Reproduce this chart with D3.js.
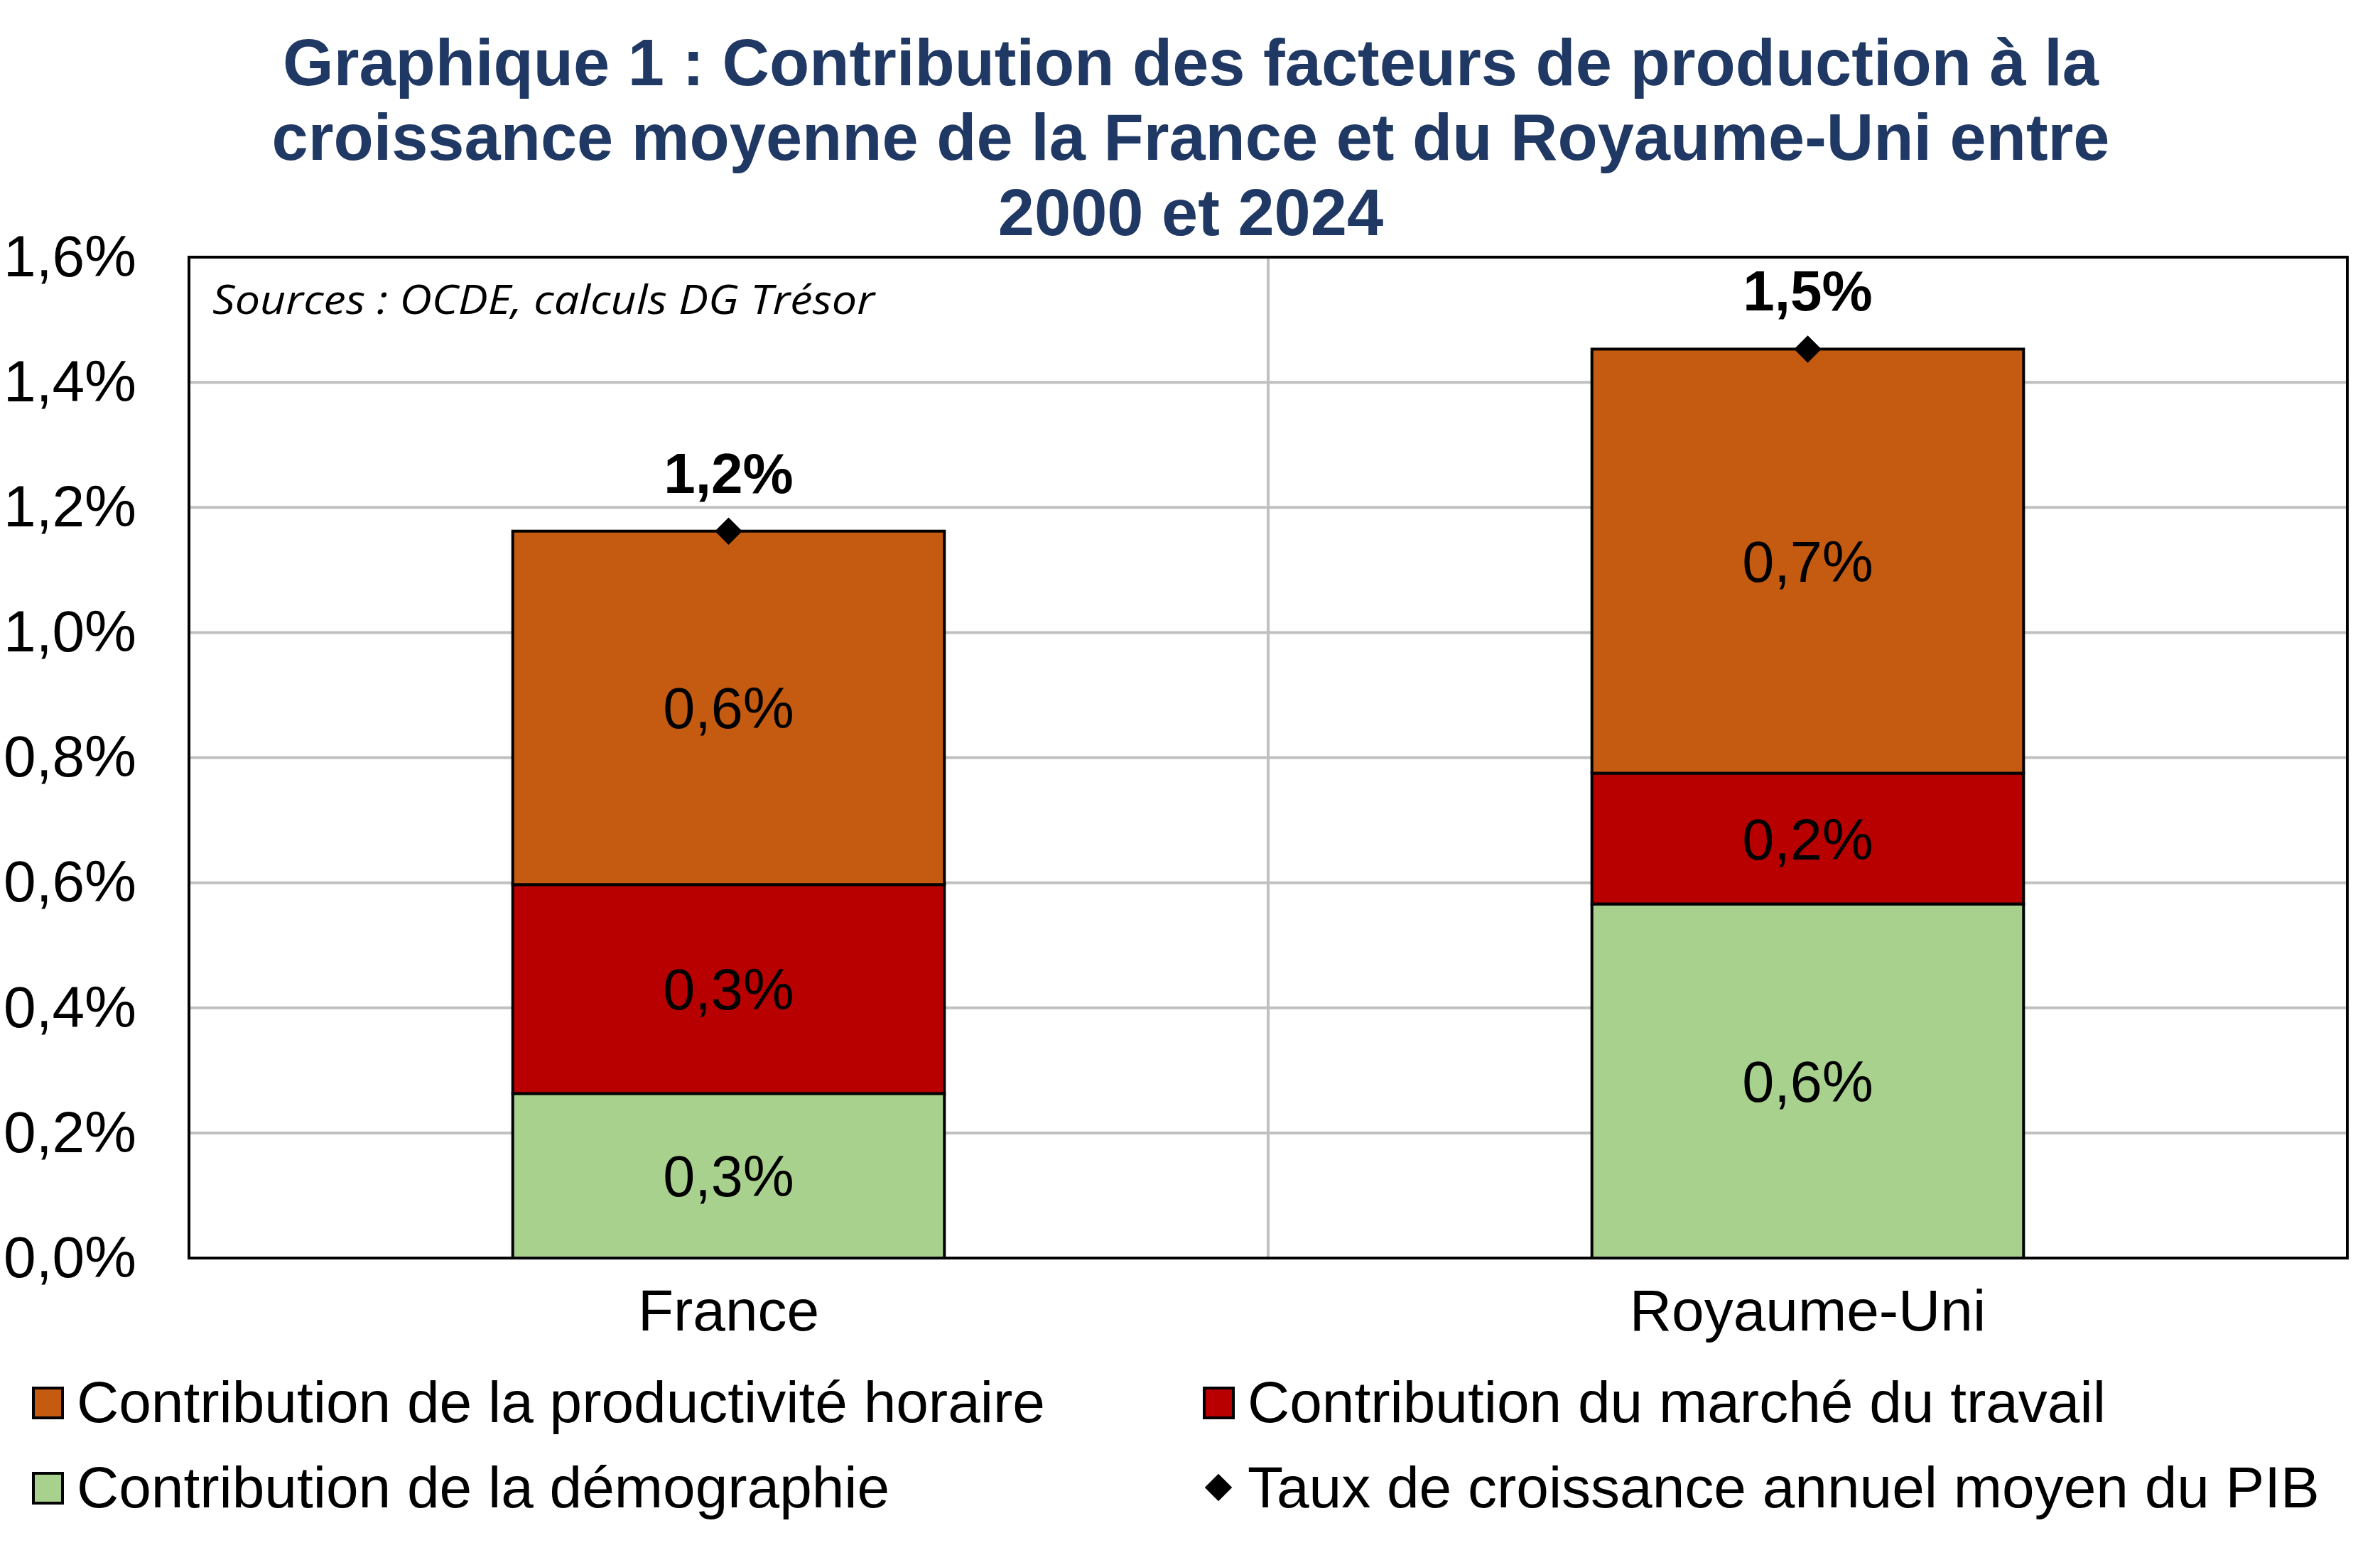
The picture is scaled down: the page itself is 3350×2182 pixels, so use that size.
<!DOCTYPE html>
<html>
<head>
<meta charset="utf-8">
<script src="https://cdn.jsdelivr.net/npm/d3@7"></script>
<style>
  html, body { margin: 0; padding: 0; background: #fff; }
  svg { display: block; }
  text { font-family: "Liberation Sans", Arial, sans-serif; }
</style>
</head>
<body>
<svg id="chart" width="3350" height="2182"></svg>
<script>
// ---- Data ----
const categories = ["France", "Royaume-Uni"];
const demographie = [0.263, 0.566];
const marcheTravail = [0.334, 0.209];
const productivite = [0.565, 0.678];
const croissancePIB = [1.162, 1.453];
const yTicks = [0, 0.2, 0.4, 0.6, 0.8, 1.0, 1.2, 1.4, 1.6];
const titleLines = [
  "Graphique 1 : Contribution des facteurs de production à la",
  "croissance moyenne de la France et du Royaume-Uni entre",
  "2000 et 2024"
];
const seriesKeys = ["demo", "marche", "prod"];
const seriesNames = {
  prod: "Contribution de la productivité horaire",
  marche: "Contribution du marché du travail",
  demo: "Contribution de la démographie",
  pib: "Taux de croissance annuel moyen du PIB"
};
const seriesColors = { demo: "#A9D18E", marche: "#B80000", prod: "#C55A11" };
const sourceText = "Sources : OCDE, calculs DG Trésor";

// ---- Layout ----
const W = 3350, H = 2182;
const plot = { left: 266, right: 3304, top: 362, bottom: 1771 };
const svg = d3.select("#chart");
svg.append("rect").attr("width", W).attr("height", H).attr("fill", "#fff");

const rows = categories.map((c, i) => ({
  cat: c, demo: demographie[i], marche: marcheTravail[i], prod: productivite[i], total: croissancePIB[i]
}));

const x = d3.scaleBand().domain(categories).range([plot.left, plot.right])
  .paddingInner(0.6).paddingOuter(0.3);
const y = d3.scaleLinear().domain([0, 1.6]).range([plot.bottom, plot.top]);
const fmt = v => d3.format(".1f")(v).replace(".", ",") + "%";

// ---- Title ----
const titleBase = [120, 225, 331];
svg.append("g").selectAll("text").data(titleLines).join("text")
  .attr("x", 1676).attr("y", (d, i) => titleBase[i])
  .attr("text-anchor", "middle")
  .attr("font-size", 92).attr("font-weight", "bold")
  .attr("fill", "#1F3864")
  .text(d => d);

// ---- Gridlines ----
const grid = svg.append("g");
grid.selectAll("line.h").data(yTicks.filter(t => t > 0 && t < 1.6)).join("line")
  .attr("class", "h")
  .attr("x1", plot.left).attr("x2", plot.right)
  .attr("y1", d => y(d)).attr("y2", d => y(d))
  .attr("stroke", "#C0C0C0").attr("stroke-width", 4);
// vertical gridline between categories
grid.append("line")
  .attr("x1", (plot.left + plot.right) / 2).attr("x2", (plot.left + plot.right) / 2)
  .attr("y1", plot.top).attr("y2", plot.bottom)
  .attr("stroke", "#C0C0C0").attr("stroke-width", 4);

// ---- Source note ----
svg.append("text")
  .attr("x", 299).attr("y", 442)
  .attr("font-family", "'Open Sans', 'Noto Sans', sans-serif")
  .style("font-family", "'Open Sans', 'Noto Sans', sans-serif")
  .attr("font-style", "italic")
  .attr("font-size", 57)
  .attr("textLength", 932).attr("lengthAdjust", "spacingAndGlyphs")
  .attr("fill", "#000")
  .text(sourceText);

// ---- Stacked bars ----
const stacked = d3.stack().keys(seriesKeys)(rows);
const barsG = svg.append("g");
stacked.forEach(layer => {
  const key = layer.key;
  const g = barsG.append("g");
  g.selectAll("rect").data(layer).join("rect")
    .attr("x", d => x(d.data.cat))
    .attr("width", x.bandwidth())
    .attr("y", d => y(d[1]))
    .attr("height", d => y(d[0]) - y(d[1]))
    .attr("fill", seriesColors[key])
    .attr("stroke", "#000").attr("stroke-width", 4);
});
// segment labels
stacked.forEach(layer => {
  barsG.append("g").selectAll("text").data(layer).join("text")
    .attr("x", d => x(d.data.cat) + x.bandwidth() / 2)
    .attr("y", d => (y(d[0]) + y(d[1])) / 2 + 29)
    .attr("text-anchor", "middle")
    .attr("font-size", 81)
    .attr("fill", "#000")
    .text(d => fmt(d[1] - d[0]));
});

// ---- Frame ----
svg.append("rect")
  .attr("x", plot.left).attr("y", plot.top)
  .attr("width", plot.right - plot.left).attr("height", plot.bottom - plot.top)
  .attr("fill", "none").attr("stroke", "#000").attr("stroke-width", 4);

// ---- Total markers ----
const diamond = d3.symbol().type(d3.symbolSquare).size(740);
svg.append("g").selectAll("path").data(rows).join("path")
  .attr("d", diamond)
  .attr("transform", d => `translate(${x(d.cat) + x.bandwidth() / 2},${y(d.total)}) rotate(45)`)
  .attr("fill", "#000");
svg.append("g").selectAll("text").data(rows).join("text")
  .attr("x", d => x(d.cat) + x.bandwidth() / 2)
  .attr("y", d => y(d.total) - 54)
  .attr("text-anchor", "middle")
  .attr("font-size", 80).attr("font-weight", "bold")
  .attr("fill", "#000")
  .text(d => fmt(d.total));

// ---- Axes ----
const yAxis = svg.append("g")
  .attr("transform", `translate(${plot.left},0)`)
  .call(d3.axisLeft(y).tickValues(yTicks).tickSize(0).tickPadding(74)
    .tickFormat(fmt));
yAxis.select(".domain").remove();
yAxis.selectAll("text").attr("font-size", 82).attr("fill", "#000")
  .style("font-family", "'Liberation Sans', Arial, sans-serif");

const xAxis = svg.append("g")
  .attr("transform", `translate(0,${plot.bottom})`)
  .call(d3.axisBottom(x).tickSize(0).tickPadding(44));
xAxis.select(".domain").remove();
xAxis.selectAll("text").attr("font-size", 82).attr("fill", "#000")
  .style("font-family", "'Liberation Sans', Arial, sans-serif");

// ---- Legend ----
const legendItems = [
  { key: "prod", col: 0, row: 0 },
  { key: "marche", col: 1, row: 0 },
  { key: "demo", col: 0, row: 1 },
  { key: "pib", col: 1, row: 1 }
];
const colX = [45, 1693];
const rowY = [2002, 2122];
const leg = svg.append("g");
legendItems.forEach(it => {
  const gx = colX[it.col], gy = rowY[it.row];
  if (it.key === "pib") {
    leg.append("path")
      .attr("d", d3.symbol().type(d3.symbolSquare).size(740)())
      .attr("transform", `translate(${gx + 22},${gy - 28}) rotate(45)`)
      .attr("fill", "#000");
  } else {
    leg.append("rect")
      .attr("x", gx + 2).attr("y", gy - 48)
      .attr("width", 41).attr("height", 42)
      .attr("fill", seriesColors[it.key])
      .attr("stroke", "#000").attr("stroke-width", 4);
  }
  leg.append("text")
    .attr("x", gx + 63).attr("y", gy)
    .attr("font-size", 82).attr("fill", "#000")
    .text(seriesNames[it.key]);
});
</script>
</body>
</html>
